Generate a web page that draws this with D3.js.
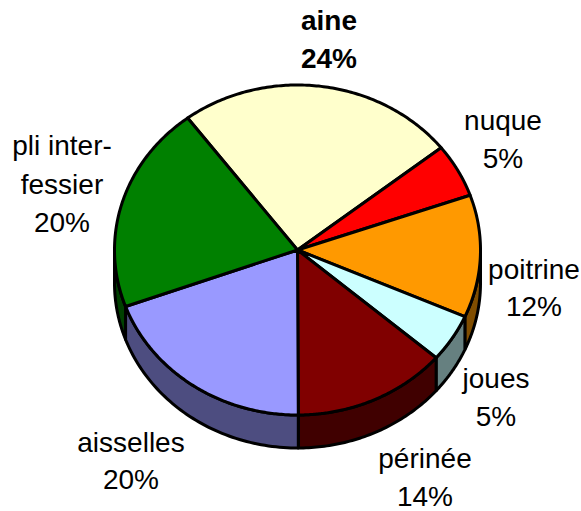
<!DOCTYPE html>
<html><head><meta charset="utf-8">
<script src="https://cdn.jsdelivr.net/npm/d3@7"></script>
<style>html,body{margin:0;padding:0;background:#fff}svg{display:block}
text{font-family:"Liberation Sans",Arial,sans-serif;font-size:28px;fill:#000;text-anchor:middle}</style>
</head><body><div id="chart"></div>
<script>
const categories = ["aine","nuque","poitrine","joues","périnée","aisselles","pli inter-fessier"];
const values = [24.6,5.25,12,4.7,13.6,19.5,20.3];
const percentLabels = ["24%","5%","12%","5%","14%","20%","20%"];
const colors = ["#FFFFCC","#FF0000","#FF9900","#CCFFFF","#800000","#9999FF","#008000"];
const labelLines = [["aine"],["nuque"],["poitrine"],["joues"],["périnée"],["aisselles"],["pli inter-","fessier"]];

const W=581,H=511,cx=297.5,cy=250,rx=183,ry=165,depth=33;
const startDeg=-36.9;
const labelPos=[[329,30,38],[503,130,38],[534,279,37],[496,388,38],[425,468,38],[131,452,37],[62,155,38.5]];

const svg=d3.select("#chart").append("svg").attr("width",W).attr("height",H);
const pie=d3.pie().sort(null).value(d=>d)
  .startAngle(startDeg*Math.PI/180).endAngle((startDeg+360)*Math.PI/180);
const arcs=pie(values);
const sx=d3.scaleLinear().domain([-1,1]).range([cx-rx,cx+rx]);
const sy=d3.scaleLinear().domain([-1,1]).range([cy-ry,cy+ry]);
const px=a=>sx(Math.sin(a)), py=a=>sy(-Math.cos(a));
const line=d3.line();
const STROKE=3;
const shade=c=>{const k=d3.rgb(c);return d3.rgb(k.r/2,k.g/2,k.b/2).formatHex();};

const visible=[Math.PI/2,3*Math.PI/2];
const walls=[];
arcs.forEach((d,i)=>{
  for(const k of [0,2*Math.PI]){
    const a0=Math.max(d.startAngle+k,visible[0]),a1=Math.min(d.endAngle+k,visible[1]);
    if(a1>a0) walls.push({i,a0,a1});
  }
});
svg.append("g").selectAll("path").data(walls).join("path")
  .attr("d",w=>{
    const as=d3.range(0,61).map(t=>w.a0+(w.a1-w.a0)*t/60);
    const top=as.map(a=>[px(a),py(a)]);
    const bot=as.slice().reverse().map(a=>[px(a),py(a)+depth]);
    return line(top.concat(bot))+"Z";
  })
  .attr("fill",w=>shade(colors[w.i]))
  .attr("stroke","#000").attr("stroke-width",STROKE).attr("stroke-linejoin","round");

svg.append("g").selectAll("path").data(arcs).join("path")
  .attr("d",d=>{
    const as=d3.range(0,121).map(t=>d.startAngle+(d.endAngle-d.startAngle)*t/120);
    return line([[sx(0),sy(0)]].concat(as.map(a=>[px(a),py(a)])))+"Z";
  })
  .attr("fill",(d,i)=>colors[i])
  .attr("stroke","#000").attr("stroke-width",STROKE).attr("stroke-linejoin","round");

const lab=svg.append("g").selectAll("text").data(categories).join("text")
  .style("font-weight",(d,i)=>i===0?"bold":null)
  .attr("x",(d,i)=>labelPos[i][0]).attr("y",(d,i)=>labelPos[i][1]);
lab.each(function(d,i){
  const g=d3.select(this);
  labelLines[i].concat([percentLabels[i]]).forEach((t,j)=>{
    g.append("tspan").attr("x",labelPos[i][0])
     .attr("y",labelPos[i][1]+j*labelPos[i][2]).text(t);
  });
});
</script></body></html>
